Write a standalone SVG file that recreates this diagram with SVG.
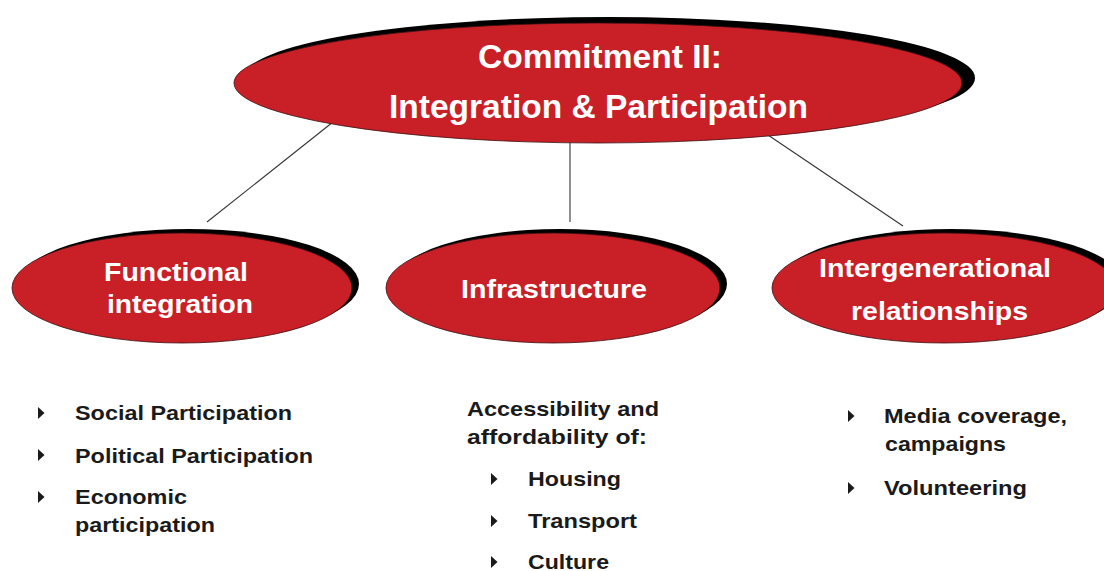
<svg xmlns="http://www.w3.org/2000/svg" width="1104" height="571" viewBox="0 0 1104 571">
<style>
.shadow{fill:#000}
.node{fill:#C91F27;stroke:#3a1010;stroke-width:0.8}
.lbl{font-family:"Liberation Sans",Arial,sans-serif;font-weight:bold;fill:#fff;text-anchor:start}
.txt{font-family:"Liberation Sans",Arial,sans-serif;font-weight:bold;fill:#1a1a1a;font-size:20.5px}
.bul{fill:#1a1a1a}
.conn{stroke:#333;stroke-width:1.1;fill:none}
</style>
<defs>
<path id="tri" d="M0,-6 L6.5,0 L0,6 Z"/>
</defs>
<rect width="1104" height="571" fill="#fff"/>
<g id="connectors">
<line class="conn" x1="333" y1="122" x2="207" y2="222"/>
<line class="conn" x1="570" y1="142" x2="570" y2="222"/>
<line class="conn" x1="765" y1="133" x2="903" y2="226"/>
</g>
<g id="commitment">
<ellipse class="shadow" cx="609" cy="78" rx="366" ry="61"/>
<ellipse class="node" cx="598" cy="83" rx="364" ry="60"/>
<text class="lbl" x="478" y="68" font-size="33" textLength="244" lengthAdjust="spacingAndGlyphs">Commitment II:</text>
<text class="lbl" x="389" y="118" font-size="33" textLength="419" lengthAdjust="spacingAndGlyphs">Integration &amp; Participation</text>
</g>
<g id="functional">
<ellipse class="shadow" cx="189" cy="284" rx="170" ry="55"/>
<ellipse class="node" cx="182" cy="288" rx="170" ry="55"/>
<text class="lbl" x="104" y="281" font-size="26" textLength="144" lengthAdjust="spacingAndGlyphs">Functional</text>
<text class="lbl" x="107" y="313" font-size="26" textLength="146" lengthAdjust="spacingAndGlyphs">integration</text>
</g>
<g id="infrastructure">
<ellipse class="shadow" cx="560" cy="284" rx="167" ry="55"/>
<ellipse class="node" cx="553" cy="288" rx="167" ry="55"/>
<text class="lbl" x="461" y="298" font-size="26" textLength="186" lengthAdjust="spacingAndGlyphs">Infrastructure</text>
</g>
<g id="intergenerational">
<ellipse class="shadow" cx="951" cy="284" rx="172" ry="55"/>
<ellipse class="node" cx="944" cy="288" rx="172" ry="55"/>
<text class="lbl" x="819" y="277" font-size="26" textLength="232" lengthAdjust="spacingAndGlyphs">Intergenerational</text>
<text class="lbl" x="851" y="320" font-size="26" textLength="177" lengthAdjust="spacingAndGlyphs">relationships</text>
</g>
<g id="list-functional">
<use href="#tri" class="bul" x="38" y="413"/>
<text class="txt" x="75" y="420" textLength="217" lengthAdjust="spacingAndGlyphs">Social Participation</text>
<use href="#tri" class="bul" x="38" y="455"/>
<text class="txt" x="75" y="463" textLength="238" lengthAdjust="spacingAndGlyphs">Political Participation</text>
<use href="#tri" class="bul" x="38" y="497"/>
<text class="txt" x="75" y="504" textLength="112" lengthAdjust="spacingAndGlyphs">Economic</text>
<text class="txt" x="75" y="532" textLength="140" lengthAdjust="spacingAndGlyphs">participation</text>
</g>
<g id="list-infrastructure">
<text class="txt" x="467" y="416" textLength="192" lengthAdjust="spacingAndGlyphs">Accessibility and</text>
<text class="txt" x="467" y="444" textLength="180" lengthAdjust="spacingAndGlyphs">affordability of:</text>
<use href="#tri" class="bul" x="491" y="479"/>
<text class="txt" x="528" y="486" textLength="93" lengthAdjust="spacingAndGlyphs">Housing</text>
<use href="#tri" class="bul" x="491" y="521"/>
<text class="txt" x="528" y="528" textLength="109" lengthAdjust="spacingAndGlyphs">Transport</text>
<use href="#tri" class="bul" x="491" y="562"/>
<text class="txt" x="528" y="569" textLength="81" lengthAdjust="spacingAndGlyphs">Culture</text>
</g>
<g id="list-intergenerational">
<use href="#tri" class="bul" x="848" y="416"/>
<text class="txt" x="884" y="423" textLength="183" lengthAdjust="spacingAndGlyphs">Media coverage,</text>
<text class="txt" x="885" y="451" textLength="121" lengthAdjust="spacingAndGlyphs">campaigns</text>
<use href="#tri" class="bul" x="848" y="488"/>
<text class="txt" x="884" y="495" textLength="143" lengthAdjust="spacingAndGlyphs">Volunteering</text>
</g>
</svg>
